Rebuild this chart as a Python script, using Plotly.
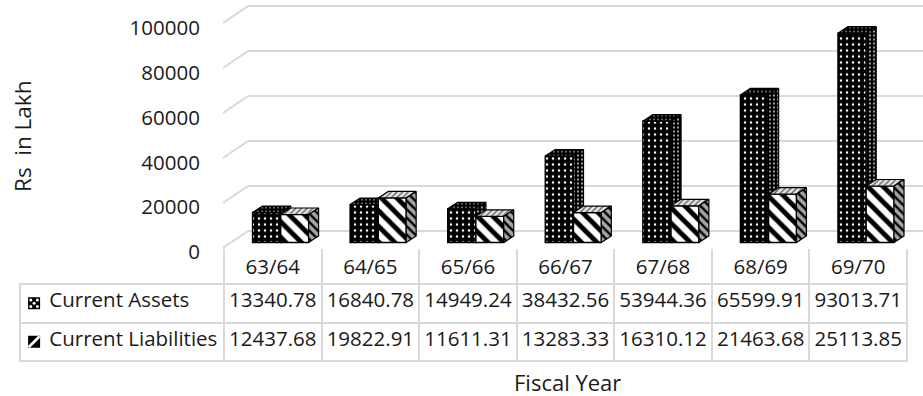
import plotly.graph_objects as go

# ---------------- data ----------------
categories = ["63/64", "64/65", "65/66", "66/67", "67/68", "68/69", "69/70"]
current_assets = [13340.78, 16840.78, 14949.24, 38432.56, 53944.36, 65599.91, 93013.71]
current_liabilities = [12437.68, 19822.91, 11611.31, 13283.33, 16310.12, 21463.68, 25113.85]
series_names = ["Current Assets", "Current Liabilities"]
y_ticks = [0, 20000, 40000, 60000, 80000, 100000]
y_title = "Rs\u00a0\u00a0in Lakh"
x_title = "Fiscal Year"

# ---------------- layout helpers ----------------
W, H = 923, 396
TXT = "#1a1a1a"
GRID = "#d9d9d9"
FONT = "Open Sans"


def fx(p):
    return p / W


def fy(p):
    return (H - p) / H


PX_PER_UNIT = 225 / 100000.0          # vertical scale of the value axis
BAR_DX = 10 / 97.57                     # bar depth (category units)
BAR_DY = 6.5 / PX_PER_UNIT              # bar depth (value units)
WALL_DY = 17 / PX_PER_UNIT              # depth of the floor/wall (value units)
n = len(categories)
idx = list(range(n))

fig = go.Figure()

# ---------------- back wall gridlines ----------------
fig.add_trace(go.Scatter(x=[None], y=[None], xaxis="x2", yaxis="y2",
                         mode="lines", showlegend=False, hoverinfo="skip"))
dx_, dy_ = [], []
for v in y_ticks:
    dx_ += [0, 1, None]
    dy_ += [v - WALL_DY, v, None]
fig.add_trace(go.Scatter(x=dx_, y=dy_, xaxis="x3", yaxis="y3", mode="lines",
                         line=dict(color=GRID, width=2), showlegend=False,
                         hoverinfo="skip"))


# ---------------- 3D bars ----------------
def faces(vals, offset, width):
    tx, ty, sx, sy = [], [], [], []
    for i, v in zip(idx, vals):
        x0 = i + offset
        x1 = x0 + width
        tx += [x0, x1, x1 + BAR_DX, x0 + BAR_DX, x0, None]
        ty += [v, v, v + BAR_DY, v + BAR_DY, v, None]
        sx += [x1, x1 + BAR_DX, x1 + BAR_DX, x1, x1, None]
        sy += [0, BAR_DY, v + BAR_DY, v, 0, None]
    return tx, ty, sx, sy


specs = [
    dict(vals=current_assets, offset=-0.29, width=0.29, ax=("x4", "y4"),
         front=dict(shape=".", fgcolor="white", bgcolor="black", size=6, solidity=0.14),
         top=dict(shape=".", fgcolor="#bbbbbb", bgcolor="black", size=4, solidity=0.15),
         side=dict(shape=".", fgcolor="#dddddd", bgcolor="black", size=4, solidity=0.18),
         color="black"),
    dict(vals=current_liabilities, offset=0.0, width=0.285, ax=("x5", "y5"),
         front=dict(shape="\\", fgcolor="black", bgcolor="white", size=11, solidity=0.45),
         top=dict(shape="/", fgcolor="#555555", bgcolor="#e6e6e6", size=4, solidity=0.3),
         side=dict(shape="\\", fgcolor="black", bgcolor="#a6a6a6", size=6, solidity=0.4),
         color="white"),
]

for name, s in zip(series_names, specs):
    xa, ya = s["ax"]
    fig.add_trace(go.Bar(
        x=idx, y=s["vals"], name=name, xaxis=xa, yaxis=ya,
        offset=s["offset"], width=s["width"], cliponaxis=False,
        marker=dict(color=s["color"], line=dict(color="black", width=1.3),
                    pattern=dict(fillmode="replace", **s["front"])),
        showlegend=False, hoverinfo="skip"))
    tx, ty, sx, sy = faces(s["vals"], s["offset"], s["width"])
    fig.add_trace(go.Scatter(
        x=tx, y=ty, xaxis=xa, yaxis=ya, mode="lines", fill="toself",
        fillcolor=s["top"]["bgcolor"], fillpattern=dict(fillmode="replace", **s["top"]),
        line=dict(color="black", width=1.2), showlegend=False, hoverinfo="skip"))
    fig.add_trace(go.Scatter(
        x=sx, y=sy, xaxis=xa, yaxis=ya, mode="lines", fill="toself",
        fillcolor=s["side"]["bgcolor"], fillpattern=dict(fillmode="replace", **s["side"]),
        line=dict(color="black", width=1.2), showlegend=False, hoverinfo="skip"))

# ---------------- category axis & separators ----------------
fig.add_trace(go.Scatter(x=[None], y=[None], xaxis="x", yaxis="y",
                         showlegend=False, hoverinfo="skip"))
fig.add_trace(go.Scatter(x=[None], y=[None], xaxis="x7", yaxis="y",
                         showlegend=False, hoverinfo="skip"))

# ---------------- data table (row 1 = header, row 2 = cells) ----------------
NB = "\u00a0" * 4
row_assets = [NB + series_names[0].replace(" ", "\u00a0")] + [f"{a:.2f}" for a in current_assets]
row_liabs = [NB + series_names[1].replace(" ", "\u00a0")] + [f"{v:.2f}" for v in current_liabilities]
cell_style = dict(height=38.5,
                  align=["left"] + ["center"] * n,
                  line=dict(color=GRID, width=2),
                  fill=dict(color="rgba(0,0,0,0)"),
                  font=dict(family=FONT, size=20.5, color=TXT))

fig.add_trace(go.Table(
    domain=dict(x=[fx(20), fx(907)], y=[fy(362), fy(284)]),
    columnwidth=[204] + [97.57] * n,
    header=dict(values=row_assets, **cell_style),
    cells=dict(values=[[v] for v in row_liabs], **cell_style),
))

# ---------------- legend keys in the table ----------------
fig.add_trace(go.Scatter(x=[0.1, 0.1], y=[1.5, 0.5], xaxis="x6", yaxis="y6", mode="markers",
                         marker=dict(symbol="square", size=12, color="black", line=dict(width=0)),
                         showlegend=False, hoverinfo="skip"))
fig.add_trace(go.Scatter(x=[-0.2, 0.4, 0.1, -0.2, 0.4],
                         y=[1.585, 1.585, 1.5, 1.415, 1.415], xaxis="x6", yaxis="y6", mode="markers",
                         marker=dict(symbol="circle", size=3, color="white", line=dict(width=0)),
                         showlegend=False, hoverinfo="skip"))
fig.add_trace(go.Scatter(x=[0.1], y=[0.5], xaxis="x6", yaxis="y6", mode="markers",
                         marker=dict(symbol="line-ne", size=11, color="white",
                                     line=dict(color="white", width=2.5)),
                         showlegend=False, hoverinfo="skip"))

fig.update_layout(
    width=W, height=H, margin=dict(l=0, r=0, t=0, b=0, autoexpand=False),
    paper_bgcolor="white", plot_bgcolor="rgba(0,0,0,0)",
    showlegend=False, barmode="overlay",
    font=dict(family=FONT, size=20.5, color=TXT),
    xaxis=dict(domain=[fx(224), fx(907)], range=[-0.5, n - 0.5], anchor="y",
               tickmode="array", tickvals=idx, ticktext=categories,
               ticks="", showgrid=False, zeroline=False, showline=False,
               ticklabelstandoff=4, tickfont=dict(family=FONT, size=20.5, color=TXT)),
    xaxis7=dict(overlaying="x", anchor="y", range=[-0.5, n - 0.5],
                tickmode="array", tickvals=[i - 0.5 for i in range(n + 1)],
                ticks="outside", ticklen=36, tickwidth=2, tickcolor=GRID,
                showticklabels=False, showgrid=False, zeroline=False, showline=False),
    yaxis=dict(domain=[fy(248), fy(24)], range=[0, 100000], anchor="x",
               tickmode="array", tickvals=y_ticks, tickformat="d",
               ticks="outside", ticklen=19, tickcolor="rgba(0,0,0,0)",
               ticklabelshift=4,
               showgrid=False, zeroline=False, showline=False,
               tickfont=dict(family=FONT, size=20.5, color=TXT)),
    xaxis2=dict(domain=[fx(248), 1], range=[0, 1], anchor="y2", visible=False),
    yaxis2=dict(domain=[fy(249), fy(3.75)], range=[-8000, 101000], anchor="x2",
                tickmode="array", tickvals=y_ticks, showgrid=True, gridcolor=GRID,
                gridwidth=2, showticklabels=False, ticks="", zeroline=False, showline=False),
    xaxis3=dict(domain=[fx(223), fx(248)], range=[0, 1], anchor="y3", visible=False),
    yaxis3=dict(domain=[fy(249), fy(3.75)], range=[-8000, 101000], anchor="x3", visible=False),
    xaxis4=dict(domain=[fx(232), fx(915)], range=[-0.5, n - 0.5], anchor="y4", visible=False),
    yaxis4=dict(domain=[fy(244.75), fy(17.5)], range=[-1000, 100000], anchor="x4", visible=False),
    xaxis5=dict(overlaying="x4", range=[-0.5, n - 0.5], anchor="y5", visible=False),
    yaxis5=dict(overlaying="y4", range=[-1000, 100000], anchor="x5", visible=False),
    xaxis6=dict(domain=[fx(22), fx(44)], range=[-1, 1], anchor="y6", visible=False),
    yaxis6=dict(domain=[fy(361), fy(284)], range=[0, 2], anchor="x6", visible=False),
    annotations=[
        dict(text=y_title, xref="paper", yref="paper", x=fx(22), y=fy(136),
             textangle=-90, showarrow=False, xanchor="center", yanchor="middle",
             font=dict(family=FONT, size=22.5, color=TXT)),
        dict(text=x_title, xref="paper", yref="paper", x=fx(567), y=fy(382),
             showarrow=False, xanchor="center", yanchor="middle",
             font=dict(family=FONT, size=22, color=TXT)),
    ],
)

fig.write_html("out.html")
